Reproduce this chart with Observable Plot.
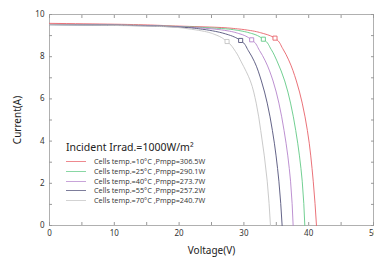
<!DOCTYPE html>
<html><head><meta charset="utf-8">
<script src="https://cdn.jsdelivr.net/npm/d3@7"></script>
<script src="https://cdn.jsdelivr.net/npm/@observablehq/plot@0.6"></script>
<style>
body{margin:0;background:#fff;}
#wrap{position:relative;width:374px;height:257px;overflow:hidden;font-family:"Noto Sans","Open Sans",sans-serif;}
#legend{position:absolute;left:0;top:0;}
</style>
</head><body><div id="wrap"></div>
<script>
const seriesNames = ["10°C","25°C","40°C","55°C","70°C"];
const pmpp = ["306.5W","290.1W","273.7W","257.2W","240.7W"];
const colors = ["#e8626a","#62c986","#b585cc","#52527a","#c4c4c4"];

const V10 = [0,10,20,26,29,31,33,34.8,36,36.9,38.1,39.0,39.8,40.7,41.2];
const I10 = [9.58,9.54,9.45,9.39,9.32,9.24,9.1,8.88,8.38,7.85,6.85,5.8,4.5,2.1,0];
const V25 = [0,10,20,24,27.2,29.2,31.2,33.0,34.2,35.1,36.3,37.2,38.0,39.0,39.4];
const I25 = [9.52,9.5,9.43,9.38,9.32,9.24,9.1,8.83,8.35,7.8,6.85,5.8,4.5,2.1,0];
const V40 = [0,10,20,22.4,25.4,27.4,29.4,31.2,32.4,33.3,34.5,35.4,36.2,37.2,37.6];
const I40 = [9.52,9.5,9.42,9.38,9.31,9.23,9.08,8.8,8.3,7.8,6.85,5.8,4.5,2.1,0];
const V55 = [0,10,20,23.6,25.6,27.6,29.5,30.7,31.6,32.7,33.6,34.4,35.4,35.9];
const I55 = [9.52,9.49,9.4,9.3,9.2,9.04,8.77,8.28,7.78,6.85,5.8,4.5,2.1,0];
const V70 = [0,10,18,21.9,23.9,25.7,27.4,28.7,29.6,31.0,31.9,32.6,33.6,34.1];
const I70 = [9.52,9.48,9.42,9.3,9.2,9.03,8.72,8.25,7.75,6.85,5.8,4.5,2.1,0];

const mppV = [34.8,33.0,31.2,29.5,27.4];
const mppI = [8.88,8.83,8.80,8.77,8.72];

const xMajor = [0,10,20,30,40,50];
const xMinor = [0,5,10,15,20,25,30,35,40,45,50];
const yMajor = [0,2,4,6,8,10];
const yMinor = [0,1,2,3,4,5,6,7,8,9,10];

const Vs=[V10,V25,V40,V55,V70], Is=[I10,I25,I40,I55,I70];
const rows = [];
Vs.forEach((vs,k)=>vs.forEach((v,j)=>rows.push({s:seriesNames[k],v,i:Is[k][j]})));
const mpp = mppV.map((v,k)=>({s:seriesNames[k],v,i:mppI[k]}));

const tickCol="#999", labCol="#333";
const chart = Plot.plot({
  width:374,height:257,marginLeft:49,marginRight:1,marginTop:14,marginBottom:32,
  style:{fontFamily:"'Noto Sans','Open Sans',sans-serif",fontSize:"8px",color:labCol,background:"#fff"},
  x:{domain:[0,50]},
  y:{domain:[0,10]},
  color:{domain:seriesNames,range:colors},
  marks:[
    Plot.frame({stroke:"#b0b0b0"}),
    Plot.axisX({ticks:xMajor,tickSize:0,tickPadding:5,label:"Voltage(V)",labelAnchor:"center",labelArrow:"none",labelOffset:28,fontSize:8}),
    Plot.axisX({ticks:xMinor,tickSize:-3,tickFormat:()=>"",label:null,stroke:tickCol}),
    Plot.axisX({anchor:"top",ticks:xMinor,tickSize:-3,tickFormat:()=>"",label:null,stroke:tickCol}),
    Plot.axisY({ticks:yMajor,tickSize:0,tickPadding:5,label:"Current(A)",labelAnchor:"center",labelArrow:"none",labelOffset:36}),
    Plot.axisY({ticks:yMinor,tickSize:-3,tickFormat:()=>"",label:null,stroke:tickCol}),
    Plot.axisY({anchor:"right",ticks:yMinor,tickSize:-3,tickFormat:()=>"",label:null,stroke:tickCol}),
    Plot.line(rows,{x:"v",y:"i",z:"s",stroke:"s",strokeWidth:0.9,curve:"monotone-y"}),
    Plot.dot(mpp,{x:"v",y:"i",stroke:"s",fill:"white",symbol:"square",r:2.3,strokeWidth:0.9})
  ]
});
const wrap=document.getElementById("wrap");
wrap.appendChild(chart);
chart.querySelectorAll("g[aria-label='x-axis label'] text, g[aria-label='y-axis label'] text").forEach(t=>{t.style.fontSize="10px";t.setAttribute("fill","#222");});

// legend overlay
const ns="http://www.w3.org/2000/svg";
const lg=document.createElementNS(ns,"svg");
lg.setAttribute("id","legend");lg.setAttribute("width",374);lg.setAttribute("height",257);
const title=document.createElementNS(ns,"text");
title.setAttribute("x",66);title.setAttribute("y",151);
title.setAttribute("font-size","10.5");title.setAttribute("fill","#222");
title.setAttribute("font-family","'Noto Sans','Open Sans',sans-serif");
title.textContent="Incident Irrad.=1000W/m²";
lg.appendChild(title);
seriesNames.forEach((n,k)=>{
  const y=Math.round(161+k*9.8)+0.5;
  const l=document.createElementNS(ns,"line");
  l.setAttribute("x1",66);l.setAttribute("x2",86);l.setAttribute("y1",y);l.setAttribute("y2",y);
  l.setAttribute("stroke",colors[k]);l.setAttribute("stroke-width",1);l.setAttribute("stroke-opacity",0.75);
  lg.appendChild(l);
  const t=document.createElementNS(ns,"text");
  t.setAttribute("x",94);t.setAttribute("y",y+2.6);
  t.setAttribute("font-size","7.3");t.setAttribute("fill","#333");
  t.setAttribute("font-family","'Open Sans','Noto Sans',sans-serif");
  t.textContent=`Cells temp.=${n} ,Pmpp=${pmpp[k]}`;
  lg.appendChild(t);
});
wrap.appendChild(lg);
</script>
</body></html>
